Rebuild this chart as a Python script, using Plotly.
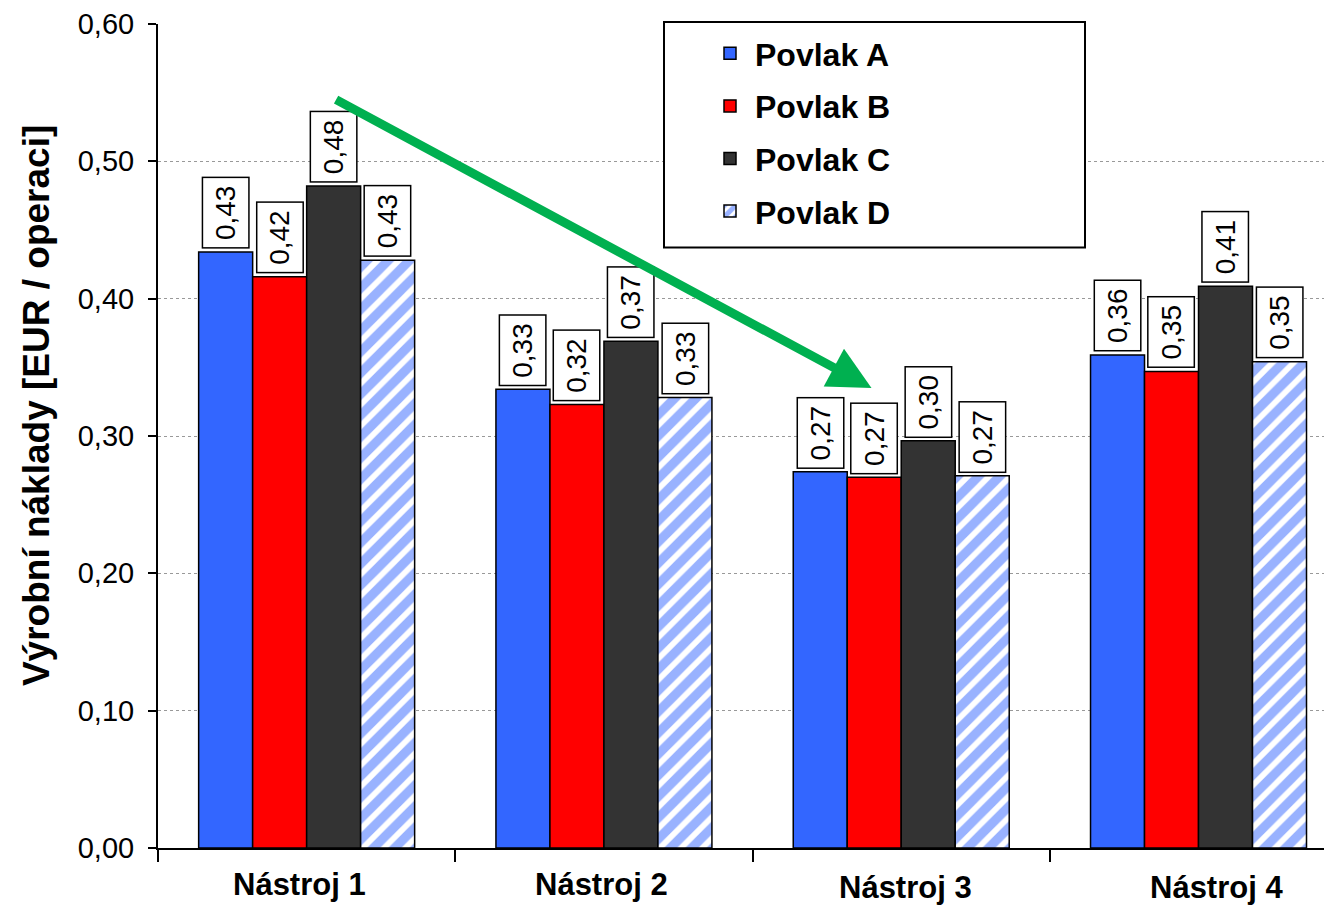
import plotly.graph_objects as go

categories = ["Nástroj 1", "Nástroj 2", "Nástroj 3", "Nástroj 4"]
series_names = ["Povlak A", "Povlak B", "Povlak C", "Povlak D"]
povlak_a = [0.434, 0.334, 0.274, 0.359]
povlak_b = [0.416, 0.323, 0.270, 0.347]
povlak_c = [0.482, 0.369, 0.2965, 0.409]
povlak_d = [0.428, 0.328, 0.271, 0.354]
y_ticks = [0.0, 0.1, 0.2, 0.3, 0.4, 0.5, 0.6]
y_title = "Výrobní náklady [EUR / operaci]"
# trend arrow (category index, value)
arrow_start = (0.094, 0.5455)
arrow_end = (1.90, 0.335)

series = [povlak_a, povlak_b, povlak_c, povlak_d]
colors = ["#3366FF", "#FF0000", "#333333", "#FFFFFF"]

# page body has an 8px margin, so the figure is 8px smaller than the window
W, H = 1324, 897
ML, MR, MT, MB = 150, 0, 14, 57
bargap = 0.2735
x_range = [-0.5, 3.449]
pw = W - ML - MR
ph = H - MT - MB

# category label placement tweaks (px)
label_dx = [-7, -2, 4, 18]
label_dy = [-17, -17, -20, -20]

FONT = "Liberation Sans, Arial"

fig = go.Figure()
for i, (name, vals) in enumerate(zip(series_names, series)):
    marker = dict(color=colors[i], line=dict(color="#000000", width=1.5))
    if i == 3:
        marker["pattern"] = dict(shape="/", fgcolor="#3366FF", bgcolor="#FFFFFF",
                                 size=15, solidity=0.62)
    fig.add_trace(go.Bar(name=name, x=categories, y=vals, marker=marker,
                         legendgroup=name))

# value labels
bar_w = (1 - bargap) / len(series)
for i, vals in enumerate(series):
    off = (i - (len(series) - 1) / 2) * bar_w
    for k, v in enumerate(vals):
        fig.add_annotation(x=k + off, y=v, xref="x", yref="y",
                           text=f"{v:.2f}".replace(".", ","), showarrow=False,
                           textangle=-90, yanchor="bottom", xanchor="center",
                           yshift=3, bgcolor="#FFFFFF", bordercolor="#000000",
                           borderwidth=1.5, borderpad=7,
                           font=dict(family=FONT, size=28, color="#000000"))

# category labels
for k, c in enumerate(categories):
    fig.add_annotation(x=k, y=0, xref="x", yref="paper", text=c, showarrow=False,
                       xanchor="center", yanchor="top",
                       xshift=label_dx[k], yshift=label_dy[k],
                       font=dict(family=FONT, size=31, color="#000000", weight="bold"))

# y axis title
fig.add_annotation(x=(28 - ML) / pw, y=(H - MB - 397) / ph, xref="paper", yref="paper",
                   text=y_title, showarrow=False, textangle=-90,
                   xanchor="center", yanchor="middle",
                   font=dict(family=FONT, size=37, color="#000000", weight="bold"))

# green trend arrow
fig.add_annotation(x=arrow_end[0], y=arrow_end[1], ax=arrow_start[0], ay=arrow_start[1],
                   xref="x", yref="y", axref="x", ayref="y", text="",
                   showarrow=True, arrowhead=2, arrowsize=0.95, arrowwidth=9,
                   arrowcolor="#00B050")

# legend frame
fig.add_shape(type="rect", xref="paper", yref="paper",
              x0=(656 - ML) / pw, x1=(1077 - ML) / pw,
              y0=(H - MB - 238) / ph, y1=(H - MB - 12) / ph,
              fillcolor="#FFFFFF", line=dict(color="#000000", width=2), layer="above")

fig.update_layout(
    width=W, height=H,
    margin=dict(l=ML, r=MR, t=MT, b=MB),
    paper_bgcolor="#FFFFFF", plot_bgcolor="#FFFFFF",
    barmode="group", bargap=bargap, bargroupgap=0,
    separators=",.",
    showlegend=True,
    legend=dict(x=(697 - ML) / pw, y=(H - MB - 16) / ph, xanchor="left", yanchor="top",
                bgcolor="rgba(0,0,0,0)", borderwidth=0, tracegroupgap=8,
                itemwidth=40,
                font=dict(family=FONT, size=32, color="#000000", weight="bold")),
    xaxis=dict(range=x_range, type="category", tickson="boundaries",
               ticks="outside", ticklen=12, tickwidth=1.5, tickcolor="#000000",
               showline=True, linecolor="#000000", linewidth=2,
               showgrid=False, showticklabels=False),
    yaxis=dict(range=[0, 0.6], tickvals=y_ticks, tickformat=".2f",
               ticks="outside", ticklen=8, tickwidth=1.5, tickcolor="#000000",
               showline=True, linecolor="#000000", linewidth=2,
               showgrid=True, gridcolor="#999999", gridwidth=1, griddash="dot",
               zeroline=False, ticklabelstandoff=8, ticklabeloverflow="allow",
               tickfont=dict(family=FONT, size=29, color="#000000")),
)

fig.write_html("out.html")
